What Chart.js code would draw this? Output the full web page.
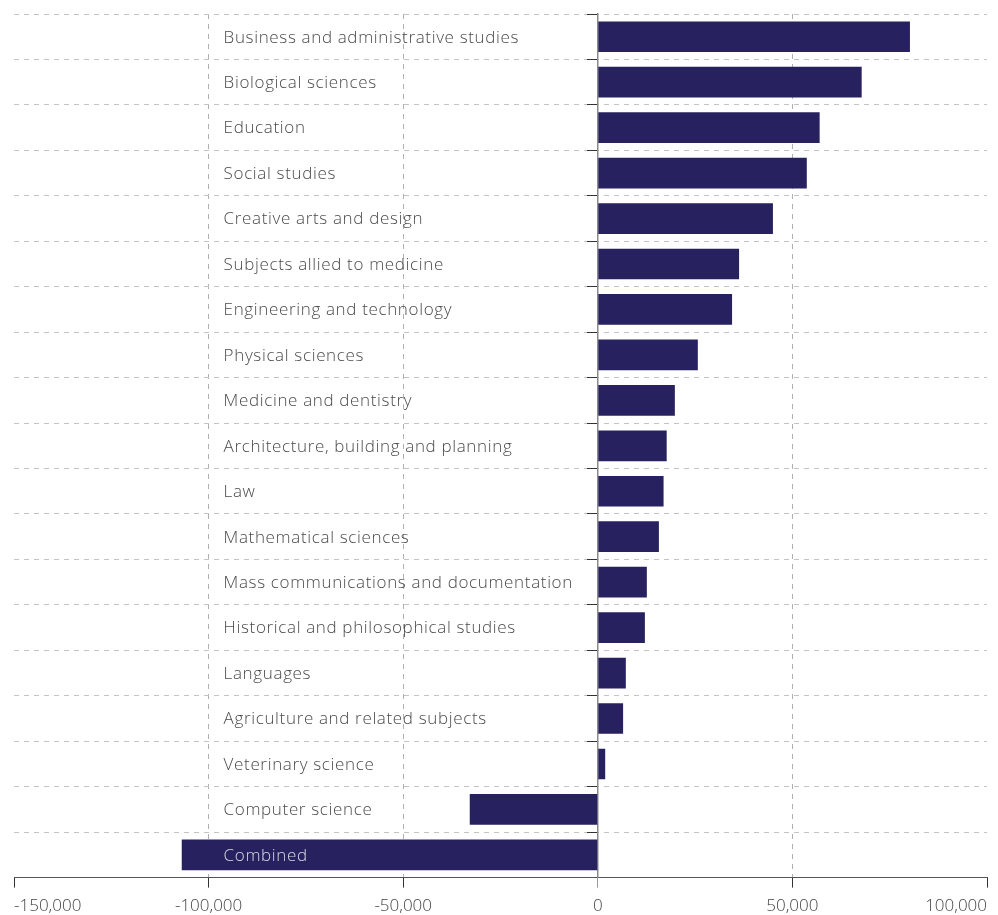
<!DOCTYPE html>
<html>
<head>
<meta charset="utf-8">
<script src="https://cdn.jsdelivr.net/npm/chart.js@4/dist/chart.umd.min.js"></script>
<style>
  html, body { margin: 0; padding: 0; background: #ffffff; }
  #wrap { width: 998px; height: 915px; position: relative; }
</style>
</head>
<body>
<div id="wrap"><canvas id="c"></canvas></div>
<script>
const categories = [
  "Business and administrative studies",
  "Biological sciences",
  "Education",
  "Social studies",
  "Creative arts and design",
  "Subjects allied to medicine",
  "Engineering and technology",
  "Physical sciences",
  "Medicine and dentistry",
  "Architecture, building and planning",
  "Law",
  "Mathematical sciences",
  "Mass communications and documentation",
  "Historical and philosophical studies",
  "Languages",
  "Agriculture and related subjects",
  "Veterinary science",
  "Computer science",
  "Combined"
];
const values = [
  80200, 67800, 57000, 53700, 45000, 36300, 34500, 25700, 19800, 17700,
  16900, 15700, 12600, 12100, 7200, 6500, 1900, -32900, -106900
];
const xMin = -150000;
const xMax = 100000;
const xStep = 50000;
const labelAnchorValue = -100000;

const BAR_COLOR = '#27225f';
const FONT = '"Open Sans", Roboto, "DejaVu Sans", sans-serif';

const categoryLabels = {
  id: 'categoryLabels',
  afterDraw(chart) {
    const ctx = chart.ctx;
    const xs = chart.scales.x;
    const ys = chart.scales.y;
    const meta = chart.getDatasetMeta(0);
    const lx = xs.getPixelForValue(labelAnchorValue) + 15;
    ctx.save();
    ctx.font = '300 17px ' + FONT;
    if ('letterSpacing' in ctx) ctx.letterSpacing = '0.65px';
    ctx.textAlign = 'left';
    ctx.textBaseline = 'middle';
    categories.forEach((name, i) => {
      const bar = meta.data[i];
      const left = Math.min(bar.x, bar.base);
      ctx.fillStyle = left < lx ? '#d9d9e6' : '#4a4a4a';
      ctx.fillText(name, lx, ys.getPixelForValue(i) + 1);
    });
    ctx.restore();
  }
};

new Chart(document.getElementById('c'), {
  type: 'bar',
  data: {
    labels: categories,
    datasets: [{
      data: values,
      backgroundColor: BAR_COLOR,
      borderWidth: 0,
      barPercentage: 0.9,
      categoryPercentage: 0.75
    }]
  },
  options: {
    indexAxis: 'y',
    responsive: true,
    maintainAspectRatio: false,
    animation: false,
    layout: { padding: { left: 14, right: 11, top: 14, bottom: -9 } },
    plugins: { legend: { display: false }, tooltip: { enabled: false } },
    scales: {
      x: {
        type: 'linear',
        min: xMin,
        max: xMax,
        z: 1,
        ticks: {
          stepSize: xStep,
          align: 'inner',
          padding: 8,
          color: '#444444',
          font: { family: FONT, size: 17, weight: '300' },
          callback: (v) => Number(v).toLocaleString('en-US')
        },
        grid: {
          color: (ctx) => {
            const v = ctx.tick ? ctx.tick.value : null;
            if (v === xMin || v === xMax || v === 0) return 'rgba(0,0,0,0)';
            return '#b0b0b0';
          },
          tickBorderDash: [],
          tickColor: (ctx) => (ctx.tick && ctx.tick.value === 0) ? '#999999' : '#333333',
          tickLength: 10,
          lineWidth: 1
        },
        border: { display: true, color: '#555555', width: 1, dash: [5, 5] }
      },
      y: {
        type: 'category',
        position: { x: 0 },
        offset: true,
        z: 1,
        ticks: { display: false },
        grid: {
          offset: true,
          color: '#c4c4c4',
          tickBorderDash: [],
          tickColor: '#333333',
          tickLength: 10,
          lineWidth: 1
        },
        border: { display: true, color: '#8a8a8a', width: 1.5, dash: [5, 5] }
      }
    }
  },
  plugins: [categoryLabels]
});
</script>
</body>
</html>
